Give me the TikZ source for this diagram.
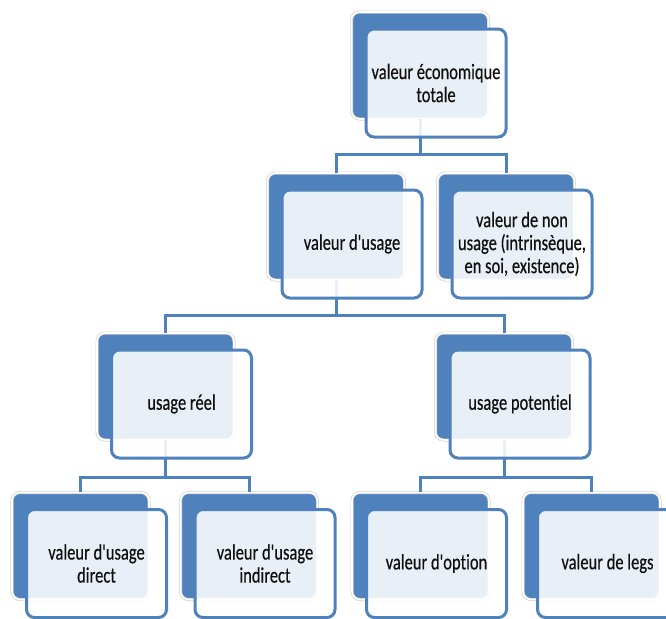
\documentclass[tikz,border=0pt]{standalone}
\usepackage{fontspec}
\setmainfont{Carlito}[FakeStretch=0.75, FakeBold=0.4, Ligatures={TeXOff,NoCommon}]
\usetikzlibrary{positioning,calc}
\definecolor{cBlue}{HTML}{4F81BD}
\definecolor{cText}{HTML}{101010}

\begin{document}
\begin{tikzpicture}[
  x=0.5pt, y=-0.5pt,
  font=\fontsize{11}{11.5}\selectfont,
  backbox/.style={fill=cBlue, draw=black!18, double=white, double distance=0.8pt,
                  line width=0.35pt, rounded corners=4pt,
                  minimum width=68.5pt, minimum height=53.5pt, inner sep=0pt},
  frontbox/.style={fill=white, fill opacity=0.88, text opacity=1, draw=cBlue,
                   line width=1.5pt, rounded corners=4pt, text=cText,
                   minimum width=70pt, minimum height=54pt, inner sep=2pt,
                   align=center},
  conn/.style={draw=cBlue, line width=1.5pt},
]
\useasboundingbox (0,0) rectangle (666,618);
\clip (0,0) rectangle (666,618);

% ---- back boxes ----
\node[backbox] (totB) at (420,65.5) {};
\node[backbox] (usageB) at (336,226.5) {};
\node[backbox] (nonB) at (506,226.5) {};
\node[backbox] (reelB) at (165.5,386.5) {};
\node[backbox] (potB) at (504,386.5) {};
\node[backbox] (directB) at (80.5,546) {};
\node[backbox] (indirB) at (249,546) {};
\node[backbox] (optionB) at (420.5,546) {};
\node[backbox] (legsB) at (591.5,546) {};

% ---- connectors ----
\draw[conn] (totB.south) -- ++(0,35) -| (usageB.north);
\draw[conn] (totB.south) -- ++(0,35) -| (nonB.north);

\draw[conn] (usageB.south) -- ++(0,35) -| (reelB.north);
\draw[conn] (usageB.south) -- ++(0,35) -| (potB.north);

\draw[conn] (reelB.south) -- ++(0,37) -| (directB.north);
\draw[conn] (reelB.south) -- ++(0,37) -| (indirB.north);

\draw[conn] (potB.south) -- ++(0,37) -| (optionB.north);
\draw[conn] (potB.south) -- ++(0,37) -| (legsB.north);

% ---- front boxes ----
\node[frontbox] (tot) at ([shift={(16,17.5)}]totB.center)
  {valeur économique\\totale};
\node[frontbox] (usage) at ([shift={(16,17.5)}]usageB.center)
  {valeur d'usage};
\node[frontbox] (non) at ([shift={(16,17.5)}]nonB.center)
  {valeur de non\\usage (intrinsèque,\\en soi, existence)};
\node[frontbox] (reel) at ([shift={(16,17.5)}]reelB.center)
  {usage réel};
\node[frontbox] (pot) at ([shift={(16,17.5)}]potB.center)
  {usage potentiel};
\node[frontbox] (direct) at ([shift={(16,17.5)}]directB.center)
  {valeur d'usage\\direct};
\node[frontbox] (indir) at ([shift={(16,17.5)}]indirB.center)
  {valeur d'usage\\indirect};
\node[frontbox] (option) at ([shift={(16,17.5)}]optionB.center)
  {valeur d'option};
\node[frontbox] (legs) at ([shift={(16,17.5)}]legsB.center)
  {valeur de legs};

\end{tikzpicture}
\end{document}
